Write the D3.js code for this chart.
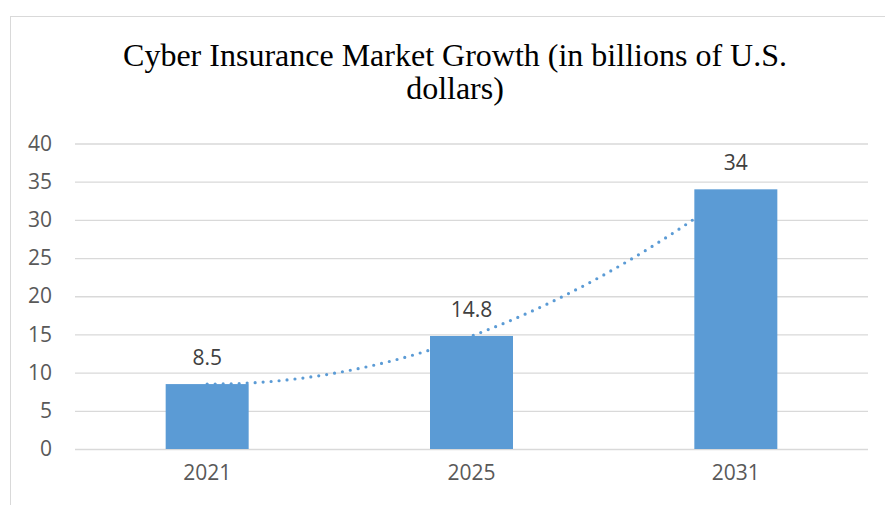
<!DOCTYPE html>
<html>
<head>
<meta charset="utf-8">
<script src="https://cdn.jsdelivr.net/npm/d3@7"></script>
<style>
  body { margin: 0; background: #fff; }
  svg { display: block; }
</style>
</head>
<body>
<svg id="chart"></svg>
<script>
// chart data
const years = ['2021', '2025', '2031']
const values = [8.5, 14.8, 34]
const yTicks = [0, 5, 10, 15, 20, 25, 30, 35, 40]
const titleLines = ['Cyber Insurance Market Growth (in billions of U.S.', 'dollars)']

const W = 885, H = 505
const svg = d3.select('#chart')
              .attr('width', W)
              .attr('height', H)

// outer chart frame (runs off the right / bottom edge like the screenshot)
svg.append('rect')
   .attr('x', 10.5).attr('y', 16.5)
   .attr('width', W).attr('height', H)
   .attr('fill', 'none')
   .attr('stroke', '#d9d9d9')

// title, two lines
svg.append('g')
   .selectAll('text')
   .data(titleLines)
   .join('text')
   .attr('x', 455)
   .attr('y', (d, i) => 66 + i * 33)
   .attr('text-anchor', 'middle')
   .style('font-family', '"Liberation Serif", "Times New Roman", serif')
   .style('font-size', '32px')
   .style('fill', '#000')
   .text(d => d)

const x = d3.scaleBand()
            .domain(years)
            .range([75, 868])
            .paddingInner(0.686)
            .paddingOuter(0.343)

const y = d3.scaleLinear()
            .domain([0, 40])
            .range([449, 143.5])

// gridlines + y labels
const yAxis = d3.axisLeft(y)
                .tickValues(yTicks)
                .tickSize(-(868 - 75))
                .tickPadding(23)
svg.append('g')
   .attr('transform', 'translate(75,0)')
   .call(yAxis)
   .call(g => g.select('.domain').remove())
   .call(g => g.selectAll('line').attr('stroke', '#d9d9d9').attr('stroke-width', 1.3))
   .call(g => g.selectAll('text')
      .style('font-family', '"Open Sans", sans-serif')
      .style('font-size', '21px')
      .style('fill', '#595959'))

// x labels
const xAxis = d3.axisBottom(x).tickSize(0).tickPadding(16)
svg.append('g')
   .attr('transform', 'translate(0,449)')
   .call(xAxis)
   .call(g => g.select('.domain').remove())
   .call(g => g.selectAll('text')
      .style('font-family', '"Open Sans", sans-serif')
      .style('font-size', '21px')
      .style('fill', '#595959'))

// 2nd order polynomial trendline (3 points -> exact fit), sits behind the bars
const poly = t => {
    let s = 0
    for (let i = 0; i < values.length; i++) {
        let l = 1
        for (let j = 0; j < values.length; j++) {
            if (j !== i) l *= (t - j) / (i - j)
        }
        s += values[i] * l
    }
    return s
}
const step = x.step()
const cx = t => x(years[0]) + x.bandwidth() / 2 + t * step
const trend = d3.range(0, 2.0001, 0.02)

svg.append('path')
   .datum(trend)
   .attr('d', d3.line().x(t => cx(t)).y(t => y(poly(t))))
   .attr('fill', 'none')
   .attr('stroke', '#5b9bd5')
   .attr('stroke-width', 3.2)
   .attr('stroke-linecap', 'round')
   .attr('stroke-dasharray', '0 8')

// bars
svg.append('g')
   .selectAll('rect')
   .data(values)
   .join('rect')
   .attr('x', (d, i) => x(years[i]))
   .attr('y', d => y(d))
   .attr('width', x.bandwidth())
   .attr('height', d => y(0) - y(d))
   .attr('fill', '#5b9bd5')

// data labels
svg.append('g')
   .selectAll('text')
   .data(values)
   .join('text')
   .attr('x', (d, i) => x(years[i]) + x.bandwidth() / 2)
   .attr('y', d => y(d) - 19)
   .attr('text-anchor', 'middle')
   .style('font-family', '"Open Sans", sans-serif')
   .style('font-size', '21px')
   .style('fill', '#404040')
   .text(d => d)
</script>
</body>
</html>
